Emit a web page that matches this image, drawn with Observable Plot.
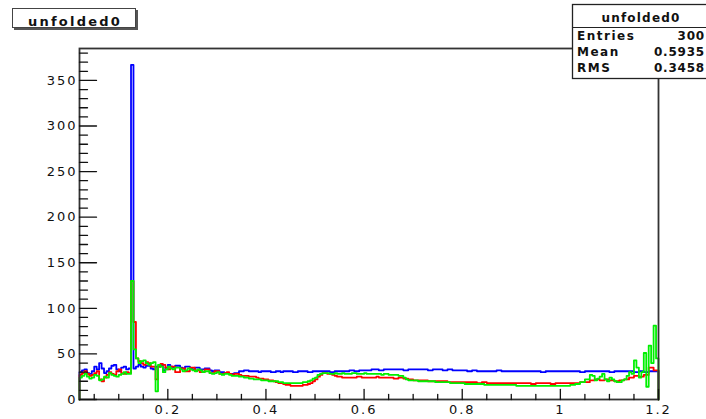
<!DOCTYPE html>
<html><head><meta charset="utf-8">
<script src="https://cdn.jsdelivr.net/npm/d3@7"></script>
<script src="https://cdn.jsdelivr.net/npm/@observablehq/plot@0.6"></script>
<style>
body{margin:0;background:#fff}
#chart{position:relative;width:706px;height:419px;overflow:hidden}
</style>
</head><body><div id="chart"></div>
<script>
// Histogram binning (bin lower edges start at 0.02, width 0.005, up to 1.2)
const binStart = 0.02;
const binWidth = 0.005;
const xMax = 1.2;

const blueValues = [
  30,32,33,29,28,31,36,33,40,34,29,31,34,37,38,33,31,35,36,33,
  34,367,34,36,38,36,35,37,37,34,33,36,36,38,32,35,38,36,35,37,
  37,35,34,36,36,34,33,35,35,33,33,34,34,32,31,32,32,30,30,29,
  29,28,28,29,29,31,31,32,32,31,31,31,31,30,31,31,31,31,30,30,
  31,31,30,31,31,31,31,30,30,31,31,31,31,30,30,31,31,31,31,31,
  31,31,30,30,31,31,31,31,31,31,32,32,31,31,32,32,32,32,32,33,
  33,33,32,32,33,33,33,33,33,33,33,33,32,32,33,33,33,33,33,33,
  33,33,32,32,33,33,33,33,32,32,33,33,32,32,32,32,32,32,31,31,
  32,32,31,31,31,31,31,31,31,31,32,32,31,31,31,31,31,31,31,31,
  31,31,31,31,31,31,31,31,30,30,31,31,31,31,31,31,31,31,31,31,
  31,31,31,31,30,30,31,31,31,31,31,31,31,31,31,31,30,30,31,31,
  31,31,31,31,31,31,30,30,31,31,30,30,31,31,31,31
];
const redValues = [
  27,29,31,28,26,27,29,31,22,20,24,27,30,28,27,31,33,29,28,30,
  29,130,85,45,42,40,38,41,40,36,36,22,36,39,38,35,33,36,36,30,
  30,34,34,31,31,35,35,32,32,30,30,33,33,29,29,31,31,28,28,29,
  30,28,27,28,28,27,26,26,26,25,25,25,24,23,23,22,22,21,21,20,
  19,18,18,17,16,16,15,15,15,15,15,16,16,17,18,20,22,25,27,29,
  29,28,28,27,26,25,25,24,24,24,24,24,24,25,25,24,24,24,24,24,
  24,25,24,24,24,24,24,24,23,23,24,24,23,23,22,22,21,21,21,21,
  21,21,20,20,20,20,20,20,20,20,19,19,19,19,19,19,19,19,19,19,
  19,19,18,18,19,19,18,18,18,18,18,18,18,18,18,18,18,18,18,18,
  18,18,18,18,17,17,18,18,18,18,18,18,17,17,18,18,18,18,18,18,
  18,18,18,18,19,19,19,19,21,21,22,22,21,21,22,22,21,21,20,20,
  21,21,22,22,24,24,26,26,25,25,27,27,35,35,32,32
];
const greenValues = [
  24,26,28,25,23,24,27,26,21,22,25,24,29,27,26,25,27,28,30,28,
  28,130,55,45,40,42,43,40,38,40,41,9,38,36,30,33,36,34,33,35,
  35,33,31,32,34,33,32,31,33,32,30,31,31,29,28,29,30,28,27,28,
  28,27,26,26,26,25,25,24,24,23,23,22,22,22,21,21,21,20,20,20,
  20,19,19,18,18,18,18,18,18,18,18,19,19,20,21,23,24,27,28,29,
  29,29,28,28,29,28,28,29,28,28,28,29,29,28,28,28,29,28,28,28,
  28,28,28,27,28,28,27,27,27,27,26,26,24,22,21,21,21,21,20,20,
  20,20,20,20,20,19,19,19,19,19,19,18,18,18,18,18,18,17,17,17,
  17,17,17,17,17,16,16,16,16,16,16,16,16,16,16,16,16,16,15,15,
  15,15,15,15,15,15,15,15,15,15,15,15,15,15,15,15,15,15,15,15,
  16,16,17,17,19,19,22,22,27,26,21,23,25,28,22,20,24,22,20,19,
  19,21,22,26,30,28,43,35,24,30,51,14,59,40,81,45
];

const seriesColors = ["#0000ff", "#ff0000", "#00f000"];

const xMajorTicks = [0.2, 0.4, 0.6, 0.8, 1, 1.2];
const xTickLabels = ["0.2", "0.4", "0.6", "0.8", "1", "1.2"];
const xMinorTicks = [0.05,0.1,0.15,0.25,0.3,0.35,0.45,0.5,0.55,0.65,0.7,0.75,0.85,0.9,0.95,1.05,1.1,1.15];
const yMajorTicks = [0, 50, 100, 150, 200, 250, 300, 350];
const yMinorTicks = [10,20,30,40,60,70,80,90,110,120,130,140,160,170,180,190,210,220,230,240,260,270,280,290,310,320,330,340,360,370,380];

const titleText = "unfolded0";
const statsTitle = "unfolded0";
const statsLabels = ["Entries", "Mean", "RMS"];
const statsValues = ["300", "0.5935", "0.3458"];

function histPoints(values) {
  const pts = [{x: binStart, y: 0}];
  values.forEach((v, i) => pts.push({x: binStart + i * binWidth, y: v}));
  pts.push({x: xMax, y: values[values.length - 1]});
  pts.push({x: xMax, y: 0});
  return pts;
}

const allSeries = [blueValues, redValues, greenValues];
const tickShape = {draw(ctx, l) { ctx.moveTo(0, 0); ctx.lineTo(0, -l); }};

const plot = Plot.plot({
  width: 706,
  height: 419,
  marginLeft: 79,
  marginRight: 48,
  marginTop: 48,
  marginBottom: 20,
  style: {fontFamily: "DejaVu Sans", fontSize: "13px", letterSpacing: "2px", background: "#fff", overflow: "visible"},
  x: {domain: [binStart, xMax]},
  y: {domain: [0, 385]},
  marks: [
    ...allSeries.map((vals, k) => Plot.line(histPoints(vals), {x: "x", y: "y", curve: "step-after", stroke: seriesColors[k], strokeWidth: 1.8})),
    Plot.frame({stroke: "#333", strokeWidth: 1.8}),
    Plot.vector(yMajorTicks, {x: binStart, y: d => d, rotate: 90, length: 17, anchor: "start", shape: tickShape, stroke: "#111", strokeWidth: 1.3}),
    Plot.vector(yMinorTicks, {x: binStart, y: d => d, rotate: 90, length: 8, anchor: "start", shape: tickShape, stroke: "#111", strokeWidth: 1.3}),
    Plot.vector(xMajorTicks, {x: d => d, y: 0, length: 10, anchor: "start", shape: tickShape, stroke: "#111", strokeWidth: 1.3}),
    Plot.vector(xMinorTicks, {x: d => d, y: 0, length: 5, anchor: "start", shape: tickShape, stroke: "#111", strokeWidth: 1.3}),
    Plot.axisX(xMajorTicks, {tickSize: 0, tickPadding: 5, tickFormat: d => xTickLabels[xMajorTicks.indexOf(d)], label: null, fill: "#111"}),
    Plot.axisY(yMajorTicks, {tickSize: 0, tickPadding: 2, label: null, fill: "#111"})
  ]
});

document.getElementById("chart").appendChild(plot);

// Title box and statistics box (ROOT style)
const svg = d3.select(plot);
const tb = svg.append("g").attr("text-anchor", "start");
tb.append("rect").attr("x", 14).attr("y", 10).attr("width", 124).attr("height", 20).attr("fill", "#555");
tb.append("rect").attr("x", 12.5).attr("y", 8.5).attr("width", 123).attr("height", 19).attr("fill", "#fff").attr("stroke", "#444").attr("stroke-width", 1);
tb.append("text").attr("x", 75).attr("y", 26).attr("text-anchor", "middle")
  .attr("font-family", "DejaVu Sans").attr("font-weight", "bold").attr("font-size", 13)
  .style("letter-spacing", "2.2px").attr("fill", "#111").text(titleText);

const sb = svg.append("g").attr("text-anchor", "start");
sb.append("rect").attr("x", 572.5).attr("y", 4.5).attr("width", 140).attr("height", 74).attr("fill", "#fff").attr("stroke", "#222").attr("stroke-width", 1.3);
sb.append("line").attr("x1", 572.5).attr("x2", 712).attr("y1", 27.5).attr("y2", 27.5).attr("stroke", "#222").attr("stroke-width", 1.2);
sb.append("text").attr("x", 641).attr("y", 22).attr("text-anchor", "middle")
  .attr("font-family", "DejaVu Sans").attr("font-weight", "bold").attr("font-size", 12)
  .style("letter-spacing", "1.2px").attr("fill", "#111").text(statsTitle);
statsLabels.forEach((lab, i) => {
  const yb = 40 + i * 16;
  sb.append("text").attr("x", 577).attr("y", yb).attr("text-anchor", "start")
    .attr("font-family", "DejaVu Sans").attr("font-weight", "bold").attr("font-size", 12)
    .style("letter-spacing", "1.5px").attr("fill", "#111").text(lab);
  sb.append("text").attr("x", 705).attr("y", yb).attr("text-anchor", "end")
    .attr("font-family", "DejaVu Sans").attr("font-weight", "bold").attr("font-size", 12)
    .style("letter-spacing", "0.8px").attr("fill", "#111").text(statsValues[i]);
});
</script>
</body></html>
